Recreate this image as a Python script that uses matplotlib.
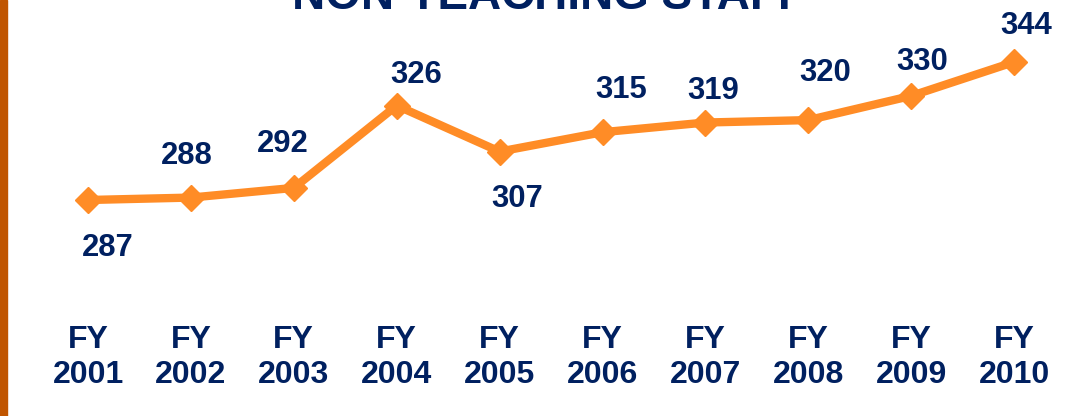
import matplotlib.pyplot as plt
from matplotlib.patches import Rectangle

years = ['2001', '2002', '2003', '2004', '2005', '2006', '2007', '2008', '2009', '2010']
staff = [287, 288, 292, 326, 307, 315, 319, 320, 330, 344]

# label placement relative to its point, in pixels (layout only)
label_dx = [20, -4, -11, 19, 18, 19, 8, 17, 11, 12]
label_dy = [-46, 44, 46, 33, -45, 44, 34, 49, 36, 38]

NAVY = '#002060'
ORANGE = '#FF8C26'

plt.rcParams['font.family'] = ['Liberation Sans', 'DejaVu Sans']

fig = plt.figure(figsize=(10.91, 4.16), dpi=100)
ax = fig.add_axes([0, 116 / 416, 1, 300 / 416])

x = list(range(len(years)))
ax.plot(x, staff, color=ORANGE, linewidth=6, marker='D', markersize=13,
        markeredgecolor=ORANGE, solid_capstyle='round', zorder=3)

for xi, v, dx, dy in zip(x, staff, label_dx, label_dy):
    ax.annotate(str(v), (xi, v), xytext=(dx, dy - 2), textcoords='offset pixels',
                ha='center', va='center', fontsize=22.3, fontweight='bold', color=NAVY)

step = 102.9
ax.set_xlim(-88 / step, (1091 - 88) / step)
ax.set_ylim(287 - 100 / 2.421, 344 + 62 / 2.421)
ax.set_xticks(x)
ax.set_xticklabels([f'FY\n{y}' for y in years], fontsize=23, fontweight='bold',
                   color=NAVY, linespacing=1.2)
ax.tick_params(axis='x', length=0, pad=18)
ax.set_yticks([])
for s in ax.spines.values():
    s.set_visible(False)

fig.text(549 / 1091, 1 - 9 / 416, 'NON-TEACHING STAFF', ha='center', va='baseline',
         fontsize=33, fontweight='bold', color=NAVY)
fig.patches.append(Rectangle((0, 0), 7 / 1091, 1, transform=fig.transFigure,
                             color='#C05500', zorder=5))

fig.savefig('out.png', dpi=100)
